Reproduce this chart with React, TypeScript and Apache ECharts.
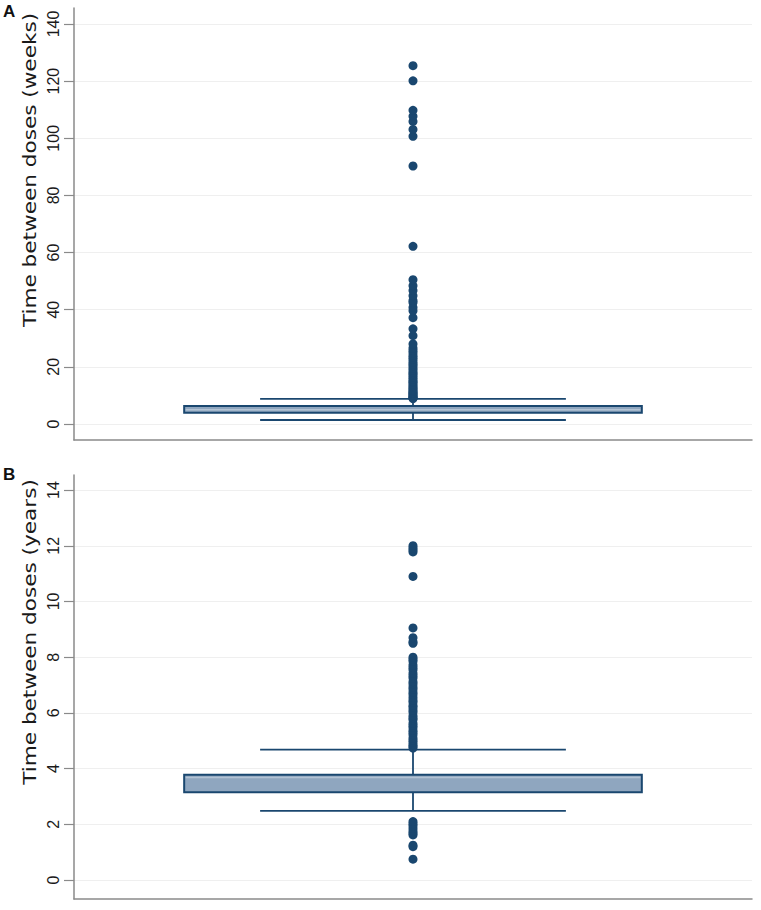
import React, { useEffect, useRef } from "react";
import * as echarts from "echarts";

// Panel A: time between doses in weeks
const weeksBox = [1.4, 3.9, 5.0, 6.3, 8.8]; // low whisker, Q1, median, Q3, high whisker
const weeksOutliers = [
  8.9, 9.1, 9.3, 9.6, 10.0, 10.3, 10.7, 11.0, 11.4, 11.9, 12.3, 12.9, 13.4, 14.0, 14.6, 15.0,
  15.7, 16.3, 17.0, 17.6, 18.1, 18.9, 19.6, 20.4, 21.0, 21.7, 22.6, 23.3, 24.0, 24.9, 25.7,
  26.6, 28.0, 30.9, 33.3, 37.2, 39.6, 40.8, 42.5, 43.2, 44.9, 46.7, 48.4, 50.5, 62.2, 90.3,
  100.7, 103.1, 105.9, 107.7, 109.8, 120.1, 125.4,
];
const weeksTicks = [0, 20, 40, 60, 80, 100, 120, 140];

// Panel B: time between doses in years
const yearsBox = [2.48, 3.15, 3.68, 3.78, 4.68];
const yearsOutliers = [
  0.75, 1.2, 1.25, 1.62, 1.68, 1.75, 1.85, 1.95, 2.02, 2.1,
  4.74, 4.8, 4.86, 4.95, 5.02, 5.1, 5.22, 5.3, 5.37, 5.48, 5.55, 5.63, 5.75, 5.82, 5.9, 6.02,
  6.1, 6.2, 6.27, 6.38, 6.45, 6.55, 6.66, 6.74, 6.85, 6.93, 7.04, 7.12, 7.25, 7.33, 7.42,
  7.55, 7.63, 7.72, 7.85, 7.93, 8.0, 8.5, 8.55, 8.7, 9.05, 10.9, 11.78, 11.85, 11.92, 12.0,
];
const yearsTicks = [0, 2, 4, 6, 8, 10, 12, 14];

const panelLabels = ["A", "B"];
const axisTitles = ["Time between doses (weeks)", "Time between doses (years)"];
const category = ["all"];

const NAVY = "#1a476f";
const FILL = "#8fa6bf";
const MEDIAN = "#b3c3d4";
const AXIS = "#8a8a8a";
const GRIDLINE = "#efefef";

function renderBox(params: any, api: any) {
  const x = api.value(0);
  const lo = api.value(1);
  const q1 = api.value(2);
  const med = api.value(3);
  const q3 = api.value(4);
  const hi = api.value(5);
  const band = api.size([1, 0])[0];
  const c = api.coord([x, med]);
  const cx = c[0];
  const yLo = api.coord([x, lo])[1];
  const yQ1 = api.coord([x, q1])[1];
  const yMed = c[1];
  const yQ3 = api.coord([x, q3])[1];
  const yHi = api.coord([x, hi])[1];
  const boxHalf = band * 0.3375;
  const capHalf = band * 0.2255;
  const lineStyle = { stroke: NAVY, lineWidth: 1.8 };
  return {
    type: "group",
    children: [
      { type: "line", shape: { x1: cx, y1: yLo, x2: cx, y2: yQ1 }, style: lineStyle },
      { type: "line", shape: { x1: cx, y1: yQ3, x2: cx, y2: yHi }, style: lineStyle },
      { type: "line", shape: { x1: cx - capHalf, y1: yLo, x2: cx + capHalf, y2: yLo }, style: lineStyle },
      { type: "line", shape: { x1: cx - capHalf, y1: yHi, x2: cx + capHalf, y2: yHi }, style: lineStyle },
      {
        type: "rect",
        shape: { x: cx - boxHalf, y: yQ3, width: boxHalf * 2, height: yQ1 - yQ3 },
        style: { fill: FILL, stroke: NAVY, lineWidth: 2 },
      },
      {
        type: "line",
        shape: { x1: cx - boxHalf + 1.5, y1: yMed, x2: cx + boxHalf - 1.5, y2: yMed },
        style: { stroke: MEDIAN, lineWidth: 1.6 },
      },
    ],
  };
}

export default function App() {
  const ref = useRef<HTMLDivElement>(null);
  useEffect(() => {
    if (!ref.current) return;
    const chart = echarts.init(ref.current, undefined, { renderer: "svg" });
    const yAxisCommon = (min: number, max: number, ticks: number[], gridIndex: number) => ({
      type: "value",
      gridIndex,
      min,
      max,
      axisLine: { show: true, lineStyle: { color: AXIS, width: 1.5 } },
      axisTick: { show: true, length: 10, customValues: ticks, lineStyle: { color: AXIS, width: 1.2 } },
      axisLabel: {
        customValues: ticks,
        rotate: 90,
        margin: 13,
        fontSize: 16,
        fontFamily: "Liberation Sans, Arial, sans-serif",
        color: "#1a1a1a",
      },
      splitLine: { show: true, lineStyle: { color: GRIDLINE, width: 1 } },
    });
    const xAxisCommon = (gridIndex: number) => ({
      type: "category",
      gridIndex,
      data: category,
      boundaryGap: true,
      axisLine: { show: true, onZero: false, lineStyle: { color: AXIS, width: 1.5 } },
      axisTick: { show: false },
      axisLabel: { show: false },
      splitLine: { show: false },
    });
    const titleText = (text: string, y: number) => ({
      type: "text",
      x: 30,
      y,
      rotation: Math.PI / 2,
      scaleX: 1.27,
      style: {
        text,
        fontSize: 17,
        fontFamily: "DejaVu Sans, sans-serif",
        fill: "#1a1a1a",
        align: "center",
        verticalAlign: "middle",
      },
    });
    chart.setOption({
      animation: false,
      backgroundColor: "#ffffff",
      grid: [
        { left: 74, right: 9, top: 8, bottom: 470 },
        { left: 74, right: 9, top: 475, bottom: 11 },
      ],
      xAxis: [xAxisCommon(0), xAxisCommon(1)],
      yAxis: [
        yAxisCommon(-5.6, 145.6, weeksTicks, 0),
        yAxisCommon(-0.68, 14.54, yearsTicks, 1),
      ],
      graphic: [
        {
          type: "text",
          x: 3,
          y: 3,
          style: { text: panelLabels[0], fontSize: 17, fontWeight: "bold", fontFamily: "Liberation Sans, Arial, sans-serif", fill: "#111" },
        },
        {
          type: "text",
          x: 3,
          y: 466,
          style: { text: panelLabels[1], fontSize: 17, fontWeight: "bold", fontFamily: "Liberation Sans, Arial, sans-serif", fill: "#111" },
        },
        titleText(axisTitles[0], 170),
        titleText(axisTitles[1], 632),
      ],
      series: [
        {
          type: "custom",
          xAxisIndex: 0,
          yAxisIndex: 0,
          renderItem: renderBox,
          encode: { x: 0, y: [1, 2, 3, 4, 5] },
          data: [[0, ...weeksBox]],
          z: 2,
        },
        {
          type: "scatter",
          xAxisIndex: 0,
          yAxisIndex: 0,
          symbolSize: 9,
          itemStyle: { color: NAVY, opacity: 1 },
          data: weeksOutliers.map((v) => [0, v]),
          z: 3,
        },
        {
          type: "custom",
          xAxisIndex: 1,
          yAxisIndex: 1,
          renderItem: renderBox,
          encode: { x: 0, y: [1, 2, 3, 4, 5] },
          data: [[0, ...yearsBox]],
          z: 2,
        },
        {
          type: "scatter",
          xAxisIndex: 1,
          yAxisIndex: 1,
          symbolSize: 9,
          itemStyle: { color: NAVY, opacity: 1 },
          data: yearsOutliers.map((v) => [0, v]),
          z: 3,
        },
      ],
    });
    return () => chart.dispose();
  }, []);
  return (
    <div
      ref={ref}
      style={{ position: "fixed", left: 0, top: 0, width: 761, height: 910, background: "#fff" }}
    />
  );
}
